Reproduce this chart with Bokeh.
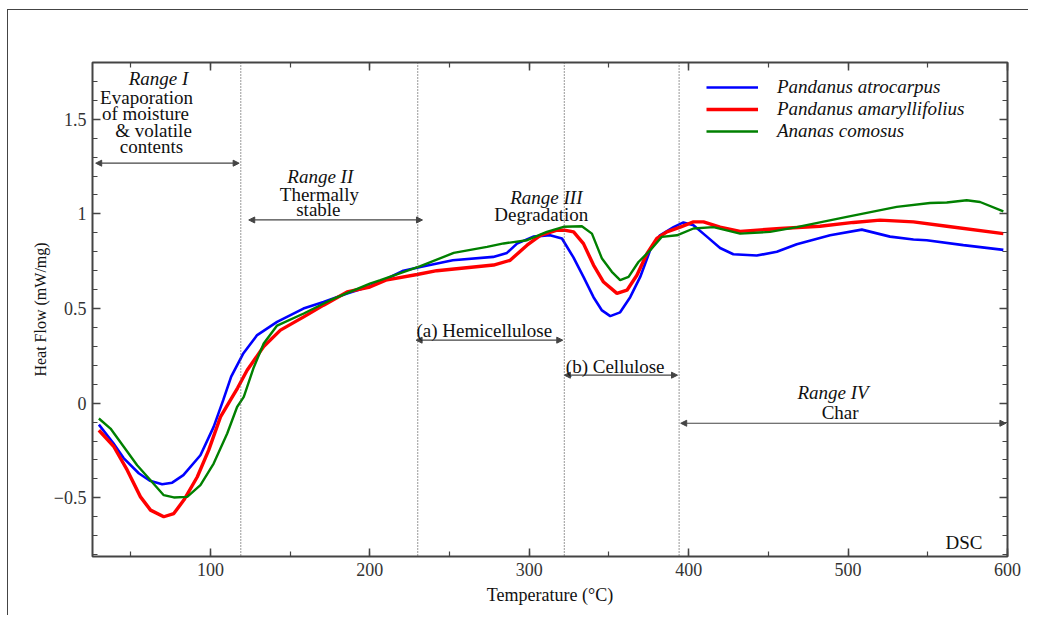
from bokeh.plotting import figure
from bokeh.models import (Range1d, LinearAxis, SingleIntervalTicker, Span, Label,
                          Arrow, NormalHead, Legend, LegendItem)
from bokeh.embed import file_html
from bokeh.resources import INLINE

# ---------------- data ----------------
atro_x = [30, 39, 45.5, 55, 62, 69.7, 76, 83, 93.7, 102, 108, 113, 120.7, 129.3, 141.8, 158.3,
          170.9, 185.7, 200, 210, 221, 231.7, 252, 277.4, 286, 292.3, 302.5, 313, 320.5, 327.7,
          334, 340.3, 345.6, 350.8, 357, 363.3, 369.6, 375.9, 382, 390.5, 396.7, 403, 411.4,
          419.7, 428, 442.7, 455.3, 467.8, 488.7, 508.6, 526.3, 541, 549.3, 572.3, 597.4]
atro_y = [-0.113, -0.21, -0.29, -0.37, -0.41, -0.428, -0.42, -0.38, -0.275, -0.125, 0.016,
          0.14, 0.264, 0.36, 0.43, 0.50, 0.535, 0.58, 0.618, 0.655, 0.70, 0.72, 0.755, 0.773,
          0.794, 0.843, 0.88, 0.887, 0.87, 0.77, 0.667, 0.56, 0.49, 0.46, 0.48, 0.56, 0.667,
          0.81, 0.887, 0.93, 0.955, 0.94, 0.88, 0.82, 0.787, 0.78, 0.80, 0.84, 0.887, 0.917,
          0.88, 0.865, 0.861, 0.835, 0.81]

amar_x = [30, 39.4, 47.8, 56.1, 62.4, 70.7, 77, 83.3, 91.7, 98.9, 106.3, 112.5, 117, 123,
          133.4, 143.9, 158.5, 171, 185.7, 200, 210, 229.6, 242, 277.6, 288, 298.6, 307, 317.4,
          322, 327.8, 334, 340.3, 346.6, 355, 361.3, 367.5, 373.8, 380, 386.3, 394.7, 403,
          409.3, 419.7, 432.3, 457.4, 482.4, 503.3, 520, 541, 561.9, 597.4]
amar_y = [-0.143, -0.23, -0.354, -0.495, -0.565, -0.60, -0.583, -0.512, -0.39, -0.248, -0.072,
          0.016, 0.08, 0.174, 0.30, 0.386, 0.456, 0.518, 0.588, 0.614, 0.65, 0.68, 0.70, 0.73,
          0.755, 0.835, 0.887, 0.914, 0.914, 0.905, 0.843, 0.73, 0.64, 0.58, 0.597, 0.676, 0.79,
          0.87, 0.905, 0.93, 0.958, 0.958, 0.93, 0.908, 0.923, 0.935, 0.955, 0.967, 0.958,
          0.935, 0.896]

anan_x = [30, 37.3, 45.6, 54, 62.4, 70.7, 77, 85.4, 93.7, 102, 110.5, 116.7, 120.9, 127.2,
          133.4, 141.8, 158.5, 175.2, 200, 206.6, 231.7, 252.6, 273.5, 283.9, 298.6, 311, 321.5,
          333, 339.3, 345.6, 351.8, 357, 362.3, 368.5, 375.9, 383.2, 392.6, 403, 415.5, 432.3,
          451, 467.8, 499.2, 530.5, 551.4, 561.9, 574.4, 582.8, 597.4]
anan_y = [-0.081, -0.134, -0.23, -0.328, -0.407, -0.486, -0.498, -0.495, -0.433, -0.319,
          -0.16, -0.02, 0.033, 0.19, 0.315, 0.41, 0.474, 0.544, 0.632, 0.65, 0.724, 0.794,
          0.826, 0.844, 0.861, 0.905, 0.932, 0.935, 0.896, 0.764, 0.694, 0.65, 0.667, 0.746,
          0.808, 0.879, 0.887, 0.923, 0.93, 0.896, 0.905, 0.93, 0.984, 1.037, 1.058, 1.06,
          1.072, 1.063, 1.014]

series_names = ["Pandanus atrocarpus", "Pandanus amaryllifolius", "Ananas comosus"]
series_colors = ["#0000FF", "#FF0000", "#008000"]

boundaries = [119, 230, 322, 394]           # dotted vertical lines (°C)
range_arrows_x0 = [28, 124, 229, 322, 395]
range_arrows_x1 = [118, 233, 321, 393, 599]
range_arrows_y = [1.268, 0.968, 0.333, 0.148, -0.106]

y_tick_labels = {-0.5: "\u22120.5", 0: "0", 0.5: "0.5", 1: "1", 1.5: "1.5"}

SERIF = "Liberation Serif"
INK = "#333333"

# ---------------- figure ----------------
p = figure(width=1021, height=606, output_backend="svg", toolbar_location=None,
           x_range=Range1d(26, 600), y_range=Range1d(-0.81, 1.80),
           min_border_left=84, min_border_right=22, min_border_top=52, min_border_bottom=60,
           background_fill_color="white", border_fill_color="white")
p.styles = {"margin-left": "7px", "margin-top": "9px",
            "border-left": "1px solid #444", "border-top": "1px solid #444"}
p.grid.visible = False
p.outline_line_color = "#444444"
p.outline_line_width = 2

bottom = p.below[0]
left = p.left[0]
bottom.ticker = SingleIntervalTicker(interval=100, num_minor_ticks=2)
left.ticker = SingleIntervalTicker(interval=0.5, num_minor_ticks=5)
left.major_label_overrides = y_tick_labels

top = LinearAxis(ticker=SingleIntervalTicker(interval=100, num_minor_ticks=2),
                 major_label_text_color=None)
right = LinearAxis(ticker=SingleIntervalTicker(interval=0.5, num_minor_ticks=5),
                   major_label_text_color=None)
p.add_layout(top, "above")
p.add_layout(right, "right")

for ax in (bottom, left, top, right):
    ax.axis_line_color = None
    ax.major_tick_in = 8
    ax.major_tick_out = 0
    ax.minor_tick_in = 5
    ax.minor_tick_out = 0
    ax.major_tick_line_color = "#444444"
    ax.minor_tick_line_color = "#444444"
    ax.major_tick_line_width = 1.5
    ax.minor_tick_line_width = 1.2
    ax.major_label_text_font = SERIF
    ax.major_label_text_font_size = "18px"
    ax.axis_label_text_font = SERIF
    ax.axis_label_text_color = "#111111"
    ax.axis_label_text_font_style = "normal"
for ax in (bottom, left):
    ax.major_label_text_color = INK

bottom.axis_label = "Temperature (\u00b0C)"
bottom.axis_label_text_font_size = "18px"
bottom.major_label_standoff = 6
bottom.axis_label_standoff = 6
left.axis_label = "Heat Flow (mW/mg)"
left.axis_label_text_font_size = "16px"
left.major_label_standoff = 6
left.axis_label_standoff = 2

# dotted boundaries
for b in boundaries:
    p.add_layout(Span(location=b, dimension="height", line_color="#555555",
                      line_dash="1 2", line_width=1.2))

# double arrows
for x0, x1, yy in zip(range_arrows_x0, range_arrows_x1, range_arrows_y):
    p.add_layout(Arrow(x_start=x0, x_end=x1, y_start=yy, y_end=yy,
                       line_color="#444444", line_width=1.2,
                       start=NormalHead(size=6, fill_color="#444444", line_color="#444444"),
                       end=NormalHead(size=6, fill_color="#444444", line_color="#444444")))

# curves
r1 = p.line(atro_x, atro_y, line_color=series_colors[0], line_width=2.6)
r2 = p.line(amar_x, amar_y, line_color=series_colors[1], line_width=3.4)
r3 = p.line(anan_x, anan_y, line_color=series_colors[2], line_width=2.4)

legend = Legend(items=[LegendItem(label=series_names[0], renderers=[r1]),
                       LegendItem(label=series_names[1], renderers=[r2]),
                       LegendItem(label=series_names[2], renderers=[r3])],
                location=(614, 414), padding=0, margin=0, spacing=0,
                glyph_width=52, glyph_height=20, label_height=20, label_standoff=19,
                border_line_alpha=0, background_fill_alpha=0,
                label_text_font=SERIF, label_text_font_style="italic",
                label_text_font_size="19px", label_text_color="#111111")
p.add_layout(legend)

# annotations: (text, x, y, italic)
notes = [
    ("Range I", 67.4, 1.717, True),
    ("Evaporation", 59.9, 1.616, False),
    ("of moisture", 59.2, 1.532, False),
    ("& volatile", 64.3, 1.442, False),
    ("contents", 63.0, 1.358, False),
    ("Range II", 168.9, 1.199, True),
    ("Thermally", 168.3, 1.104, False),
    ("stable", 167.7, 1.025, False),
    ("Range III", 310.7, 1.088, True),
    ("Degradation", 307.5, 0.998, False),
    ("(a) Hemicellulose", 271.8, 0.386, False),
    ("(b) Cellulose", 353.9, 0.195, False),
    ("Range IV", 490.6, 0.058, True),
    ("Char", 495.0, -0.048, False),
    ("DSC", 572.7, -0.734, False),
]
for txt, xx, yy, it in notes:
    p.add_layout(Label(x=xx, y=yy, text=txt, text_align="center", text_baseline="middle",
                       text_font=SERIF, text_font_size="19px",
                       text_font_style="italic" if it else "normal",
                       text_color="#111111"))

open("out.html", "w").write(file_html(p, INLINE))
